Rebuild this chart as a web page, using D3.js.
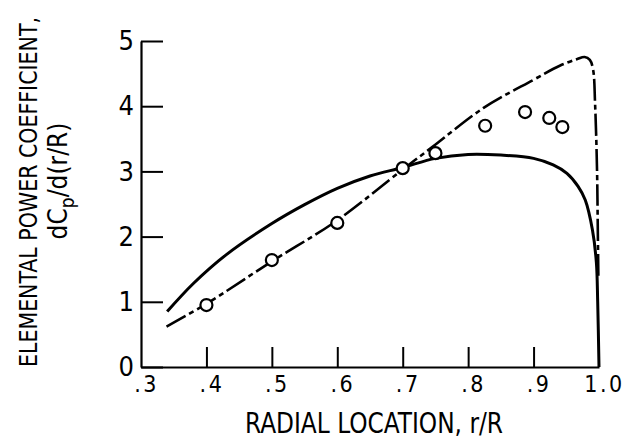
<!DOCTYPE html>
<html>
<head>
<meta charset="utf-8">
<script src="https://cdn.jsdelivr.net/npm/d3@7"></script>
<style>
  html, body { margin: 0; padding: 0; background: #fff; }
  svg { display: block; }
  text { font-family: "Liberation Sans Narrow", "DejaVu Sans Condensed", "Liberation Sans", sans-serif; font-stretch: condensed; fill: #000; }
</style>
</head>
<body>
<svg id="chart" width="625" height="440"></svg>
<script>
// ---- data ----
const xTicks = [0.3, 0.4, 0.5, 0.6, 0.7, 0.8, 0.9, 1.0];
const xTickLabels = [".3", ".4", ".5", ".6", ".7", ".8", ".9", "1.0"];
const yTicks = [0, 1, 2, 3, 4, 5];
const yTickLabels = ["0", "1", "2", "3", "4", "5"];

// measured points (circles)
const measuredX = [0.4, 0.5, 0.6, 0.7, 0.75, 0.826, 0.887, 0.924, 0.944];
const measuredY = [0.95, 1.64, 2.21, 3.05, 3.28, 3.70, 3.91, 3.82, 3.68];

// solid curve
const solidX = [0.34, 0.38, 0.43, 0.5, 0.55, 0.6, 0.65, 0.7, 0.75, 0.8, 0.85, 0.9, 0.93, 0.951, 0.968, 0.979, 0.99, 0.996, 0.998, 1.0];
const solidY = [0.85, 1.28, 1.72, 2.2, 2.49, 2.74, 2.93, 3.06, 3.2, 3.26, 3.25, 3.2, 3.1, 2.97, 2.77, 2.56, 2.1, 1.6, 1.0, 0.0];

// long-short dashed curve
const dashX = [0.339, 0.4, 0.5, 0.6, 0.7, 0.746, 0.823, 0.899, 0.94, 0.966, 0.978, 0.986, 0.991, 0.994, 0.997, 0.998, 0.999];
const dashY = [0.62, 0.97, 1.62, 2.25, 3.03, 3.38, 3.97, 4.40, 4.62, 4.72, 4.755, 4.71, 4.56, 4.04, 3.02, 2.25, 1.4];

// ---- layout ----
const svg = d3.select("#chart");
const x = d3.scaleLinear().domain([0.3, 1.0]).range([141, 599]);
const y = d3.scaleLinear().domain([0, 5]).range([367, 41]);

// y axis
const yAxis = d3.axisLeft(y)
  .tickValues(yTicks)
  .tickFormat((d, i) => yTickLabels[i])
  .tickSizeInner(-22).tickSizeOuter(0).tickPadding(7);
const gy = svg.append("g").attr("transform", "translate(141,0)").call(yAxis);
gy.select(".domain").attr("stroke", "#000").attr("stroke-width", 2.2);
gy.selectAll(".tick line").attr("stroke", "#000").attr("stroke-width", 2);
gy.selectAll(".tick text").attr("font-size", 27).attr("font-family", null);

// x axis
const xAxis = d3.axisBottom(x)
  .tickValues(xTicks)
  .tickFormat((d, i) => xTickLabels[i])
  .tickSizeInner(-20).tickSizeOuter(0).tickPadding(12);
const gx = svg.append("g").attr("transform", "translate(0,367)").call(xAxis);
gx.select(".domain").attr("stroke", "#000").attr("stroke-width", 2.2);
gx.selectAll(".tick line").attr("stroke", "#000").attr("stroke-width", 2)
  .attr("display", d => (d === 0.3 || d === 1.0) ? "none" : null);
gx.selectAll(".tick text").attr("font-size", 23).attr("font-family", null)
  .attr("letter-spacing", 2.5).attr("dx", 5).attr("dy", "0.55em");

// curves
const line = d3.line().x(d => x(d[0])).y(d => y(d[1])).curve(d3.curveCatmullRom.alpha(0.5));

svg.append("path")
  .datum(solidX.map((v, i) => [v, solidY[i]]))
  .attr("fill", "none").attr("stroke", "#000").attr("stroke-width", 3)
  .attr("d", line);

svg.append("path")
  .datum(dashX.map((v, i) => [v, dashY[i]]))
  .attr("fill", "none").attr("stroke", "#000").attr("stroke-width", 2.6)
  .attr("stroke-dasharray", "22,4,5,4")
  .attr("d", line);

// measured circles
svg.append("g").selectAll("circle")
  .data(measuredX.map((v, i) => [v, measuredY[i]]))
  .join("circle")
  .attr("cx", d => x(d[0])).attr("cy", d => y(d[1])).attr("r", 6)
  .attr("fill", "#fff").attr("stroke", "#000").attr("stroke-width", 2.2);

// axis titles
svg.append("text")
  .attr("x", 374).attr("y", 433)
  .attr("text-anchor", "middle").attr("font-size", 29)
  .attr("textLength", 258).attr("lengthAdjust", "spacingAndGlyphs")
  .text("RADIAL LOCATION,  r/R");

svg.append("text")
  .attr("transform", "translate(37,192) rotate(-90)")
  .attr("text-anchor", "middle").attr("font-size", 24)
  .attr("textLength", 350).attr("lengthAdjust", "spacingAndGlyphs")
  .text("ELEMENTAL POWER COEFFICIENT,");

const t2 = svg.append("text")
  .attr("transform", "translate(67,181) rotate(-90)")
  .attr("text-anchor", "middle").attr("font-size", 26);
t2.append("tspan").text("dC");
t2.append("tspan").attr("font-size", 19).attr("dy", 7).text("p");
t2.append("tspan").attr("dy", -7).text("/d(r/R)");
</script>
</body>
</html>
